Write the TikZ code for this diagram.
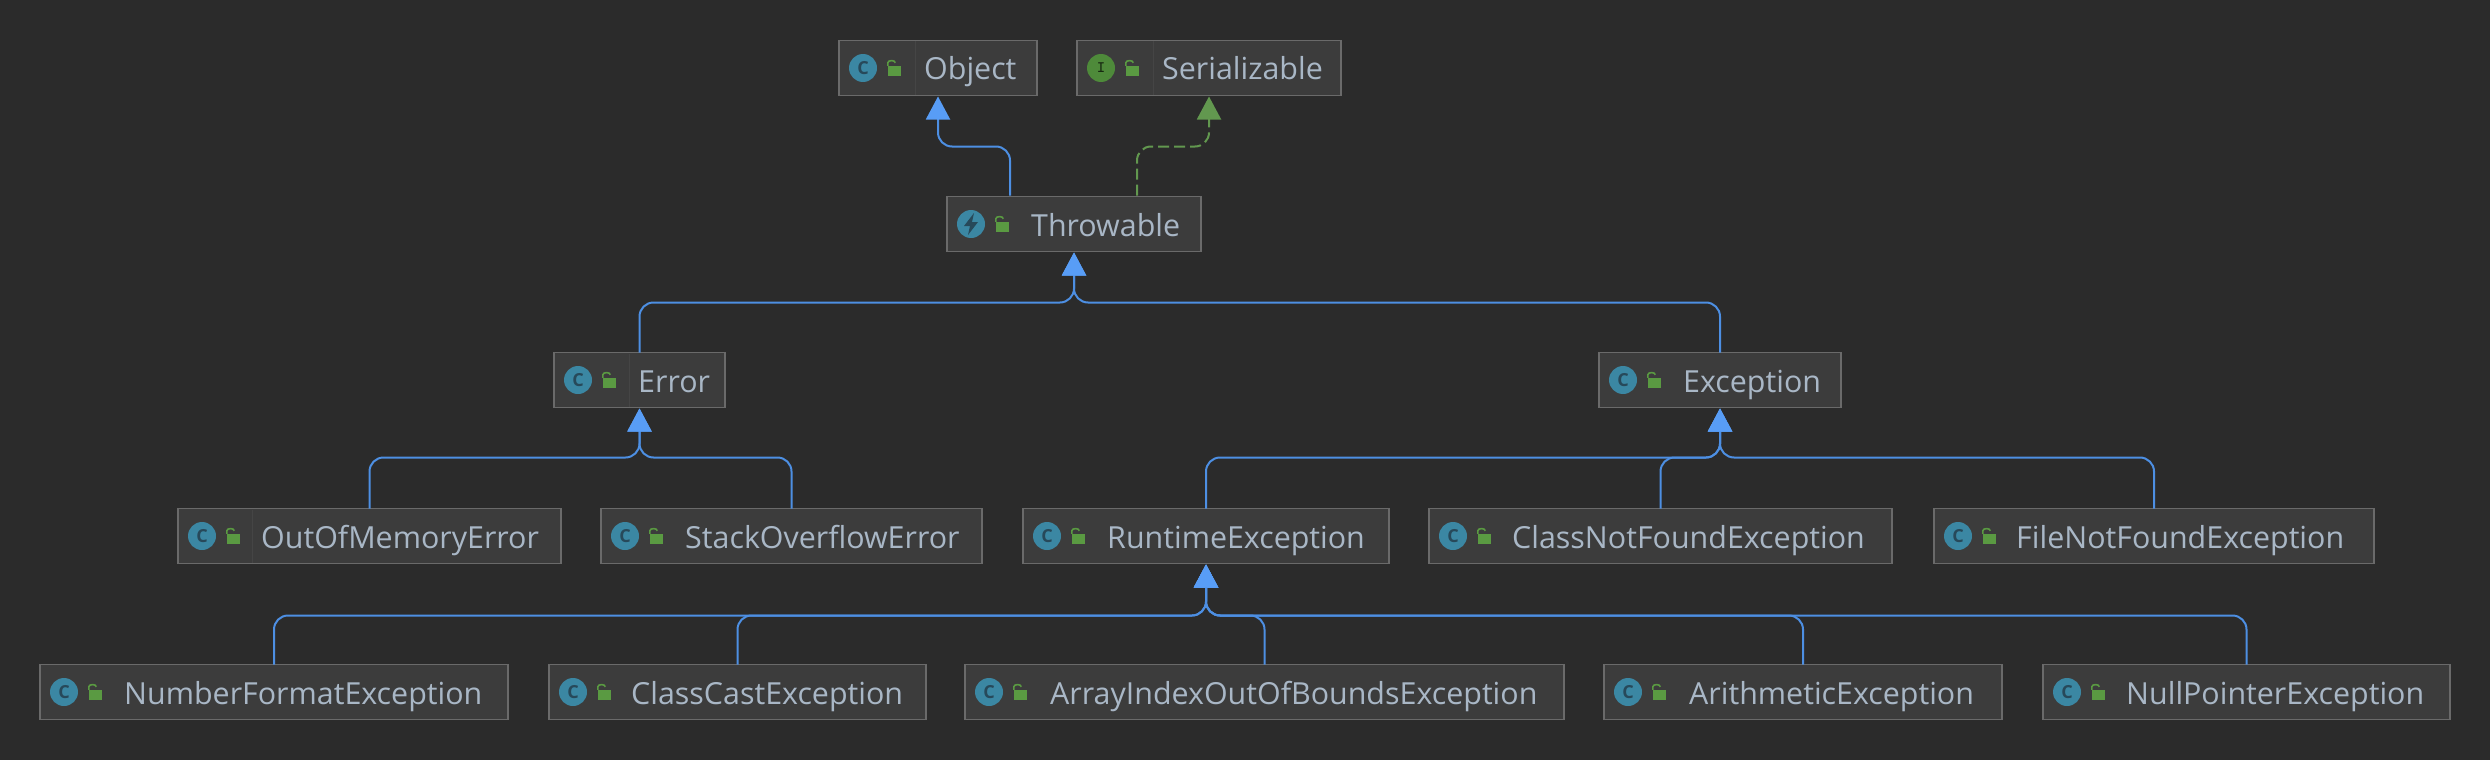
\documentclass[tikz,border=0pt]{standalone}
\usepackage{fontspec}
\setmainfont{Open Sans}
\usetikzlibrary{arrows.meta, positioning, calc}

\definecolor{canvas}{HTML}{2B2B2B}
\definecolor{boxfill}{HTML}{3C3C3C}
\definecolor{boxline}{HTML}{6A6A6A}
\definecolor{boxdiv}{HTML}{454545}
\definecolor{nametext}{HTML}{A9B7C6}
\definecolor{iconteal}{HTML}{3B87A3}
\definecolor{icondark}{HTML}{27495A}
\definecolor{icongreen}{HTML}{4E8A3A}
\definecolor{lockgreen}{HTML}{5A9A42}
\definecolor{extendblue}{HTML}{4D8FE3}
\definecolor{tipblue}{HTML}{589DF6}
\definecolor{implgreen}{HTML}{62984F}

% name, left, right, start of text, middle, letter in the icon
\newcommand{\classnode}[7][classicon]{
	\node[classbox, minimum width=#4-#3] (#2) at ({(#3+#4)/2}, #6) {};
	\node[#1] (#2-icon) at ($(#2.west)+(24,0)$) {#7};
	\node[lockbody] (#2-lock) at ($(#2.west)+(55.5,3)$) {};
	\draw[lockloop] (#2-lock.north west) -- ++(0,-3) to[out=90, in=90] ++(7.5,0);
	\node[classname] (#2-name) at (#5, #6+12) {#2};
}

\begin{document}
\begin{tikzpicture}[
		x=1pt, y=-1pt,
		% Style for the class boxes
		classbox/.style={
			draw=boxline, fill=boxfill, line width=1.4pt,
			minimum height=55pt, inner sep=0pt, outer sep=0pt
		},
		classname/.style={
			anchor=base west, inner sep=0pt, text=nametext,
			font=\fontsize{30.4}{36}\selectfont
		},
		% Styles for the small icons
		classicon/.style={
			circle, fill=iconteal, minimum size=28pt, inner sep=0pt,
			text=icondark, font=\fontsize{18}{20}\bfseries\selectfont
		},
		ifaceicon/.style={
			classicon, fill=icongreen, text=black!70!icongreen,
			font=\fontsize{16}{20}\ttfamily\bfseries\selectfont
		},
		lockbody/.style={fill=lockgreen, minimum width=13pt, minimum height=10pt, inner sep=0pt},
		lockloop/.style={draw=lockgreen, line width=1.6pt},
		divider/.style={draw=boxdiv, line width=1pt},
		% Connector styles
		extends/.style={
			draw=extendblue, line width=2pt, rounded corners=14pt,
			-{Triangle[length=23pt, width=24pt, fill=tipblue, color=tipblue]}, shorten >=1pt
		},
		implements/.style={
			draw=implgreen, line width=2pt, rounded corners=14pt, dash pattern=on 11pt off 5pt,
			-{Triangle[length=23pt, width=24pt, fill=implgreen, color=implgreen]}, shorten >=1pt
		}
		]
		\useasboundingbox[fill=canvas] (0,0) rectangle (2490,760);
		
		% --- 1. Top of the tree ---
		\classnode{Object}{839}{1037}{924}{68}{C}
		\classnode[ifaceicon]{Serializable}{1077}{1341}{1162}{68}{I}
		\classnode{Throwable}{947}{1201}{1031}{224}{}
		\fill[icondark] ($(Throwable-icon)+(3,-11)$) -- ($(Throwable-icon)+(-7,2)$) -- ($(Throwable-icon)+(-1,2)$)
			-- ($(Throwable-icon)+(-3,11)$) -- ($(Throwable-icon)+(7,-2)$) -- ($(Throwable-icon)+(1,-2)$) -- cycle;
		
		% --- 2. Second row ---
		\classnode{Error}{554}{725}{638}{380}{C}
		\classnode{Exception}{1599}{1841}{1683}{380}{C}
		
		% --- 3. Third row ---
		\classnode{OutOfMemoryError}{178}{561}{261}{536}{C}
		\classnode{StackOverflowError}{601}{982}{685}{536}{C}
		\classnode{RuntimeException}{1023}{1389}{1107}{536}{C}
		\classnode{ClassNotFoundException}{1429}{1892}{1512}{536}{C}
		\classnode{FileNotFoundException}{1934}{2374}{2016}{536}{C}
		
		% --- 4. Bottom row ---
		\classnode{NumberFormatException}{40}{508}{124}{692}{C}
		\classnode{ClassCastException}{549}{926}{631}{692}{C}
		\classnode{ArrayIndexOutOfBoundsException}{965}{1564}{1050}{692}{C}
		\classnode{ArithmeticException}{1604}{2002}{1689}{692}{C}
		\classnode{NullPointerException}{2043}{2450}{2126}{692}{C}
		
		% --- 5. Dividers inside some boxes ---
		\draw[divider] ($(Object.north west)+(76,1)$) -- ($(Object.south west)+(76,-1)$);
		\draw[divider] ($(Serializable.north west)+(76,1)$) -- ($(Serializable.south west)+(76,-1)$);
		\draw[divider] ($(Error.north west)+(75,1)$) -- ($(Error.south west)+(75,-1)$);
		\draw[divider] ($(OutOfMemoryError.north west)+(74,1)$) -- ($(OutOfMemoryError.south west)+(74,-1)$);
		
		% --- 6. Arrows ---
		\draw[extends] ($(Throwable.north)+(-64,-1)$) |- ($(Object.south)+(0,51)$) -- (Object.south);
		\draw[implements] ($(Throwable.north)+(63,-1)$) |- ($(Serializable.south)+(0,51)$) -- (Serializable.south);
		
		\draw[extends] (Error.north) |- ($(Throwable.south)+(0,51)$) -- (Throwable.south);
		\draw[extends] (Exception.north) |- ($(Throwable.south)+(0,51)$) -- (Throwable.south);
		
		\draw[extends] (OutOfMemoryError.north) |- ($(Error.south)+(0,50)$) -- (Error.south);
		\draw[extends] (StackOverflowError.north) |- ($(Error.south)+(0,50)$) -- (Error.south);
		
		\draw[extends] (RuntimeException.north) |- ($(Exception.south)+(0,50)$) -- (Exception.south);
		\draw[extends] (ClassNotFoundException.north) |- ($(Exception.south)+(0,50)$) -- (Exception.south);
		\draw[extends] (FileNotFoundException.north) |- ($(Exception.south)+(0,50)$) -- (Exception.south);
		
		\draw[extends] (NumberFormatException.north) |- ($(RuntimeException.south)+(0,52)$) -- (RuntimeException.south);
		\draw[extends] (ClassCastException.north) |- ($(RuntimeException.south)+(0,52)$) -- (RuntimeException.south);
		\draw[extends] (ArrayIndexOutOfBoundsException.north) |- ($(RuntimeException.south)+(0,52)$) -- (RuntimeException.south);
		\draw[extends] (ArithmeticException.north) |- ($(RuntimeException.south)+(0,52)$) -- (RuntimeException.south);
		\draw[extends] (NullPointerException.north) |- ($(RuntimeException.south)+(0,52)$) -- (RuntimeException.south);
		
	\end{tikzpicture}
\end{document}
